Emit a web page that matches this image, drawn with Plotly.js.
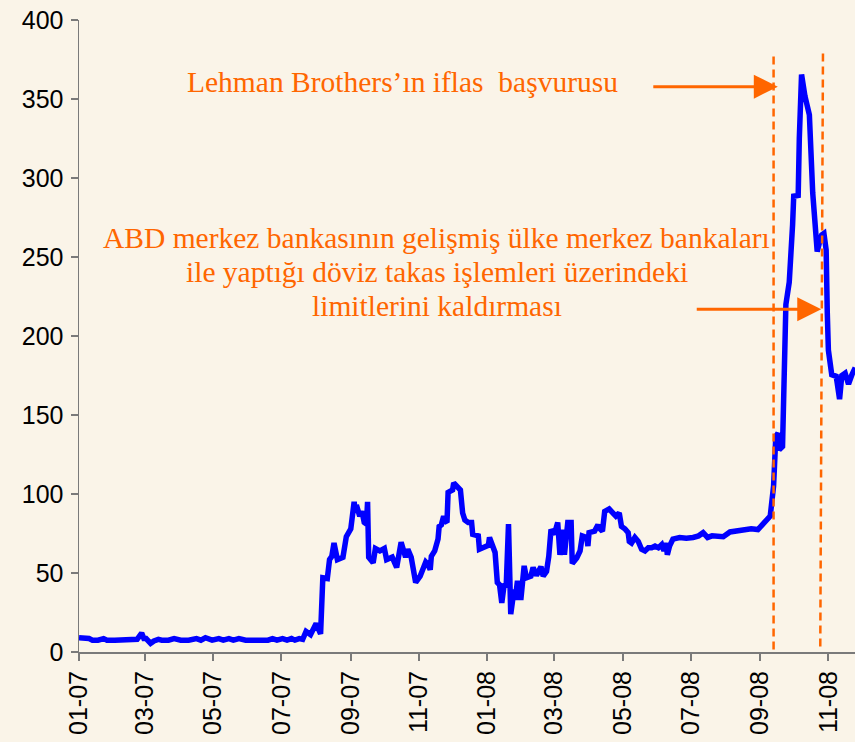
<!DOCTYPE html>
<html>
<head>
<meta charset="utf-8">
<script src="https://cdn.plot.ly/plotly-3.0.1.min.js"></script>
<style>
  html, body { margin: 0; padding: 0; background: #FAF4E8; }
  #chart { width: 855px; height: 742px; }
</style>
</head>
<body>
<div id="chart"></div>
<script>
const dates = [
  '2007-01-01','2007-01-05','2007-01-10','2007-01-13','2007-01-18','2007-01-23','2007-01-26','2007-02-02','2007-02-09','2007-02-16',
  '2007-02-22','2007-02-26','2007-02-28','2007-03-02','2007-03-06','2007-03-09','2007-03-13','2007-03-16','2007-03-22','2007-03-27',
  '2007-04-02','2007-04-09','2007-04-16','2007-04-20','2007-04-24','2007-04-30','2007-05-06','2007-05-10','2007-05-15','2007-05-19',
  '2007-05-24','2007-05-30','2007-06-06','2007-06-13','2007-06-19','2007-06-23','2007-06-27','2007-07-02','2007-07-06','2007-07-10',
  '2007-07-13','2007-07-17','2007-07-20','2007-07-23','2007-07-27','2007-08-01','2007-08-05','2007-08-07','2007-08-11','2007-08-13',
  '2007-08-15','2007-08-17','2007-08-20','2007-08-25','2007-08-28','2007-09-01','2007-09-02','2007-09-04','2007-09-05','2007-09-06',
  '2007-09-09','2007-09-11','2007-09-13','2007-09-15','2007-09-16','2007-09-17','2007-09-21','2007-09-23','2007-09-27','2007-10-01',
  '2007-10-03','2007-10-08','2007-10-12','2007-10-16','2007-10-20','2007-10-22','2007-10-25','2007-10-29','2007-11-02','2007-11-05',
  '2007-11-07','2007-11-09','2007-11-11','2007-11-12','2007-11-15','2007-11-18','2007-11-19','2007-11-21','2007-11-23','2007-11-24',
  '2007-11-26','2007-11-27','2007-12-01','2007-12-02','2007-12-05','2007-12-08','2007-12-10','2007-12-12','2007-12-15','2007-12-18',
  '2007-12-19','2007-12-24','2007-12-25','2007-12-29','2008-01-02','2008-01-03','2008-01-06','2008-01-08','2008-01-10','2008-01-12',
  '2008-01-14','2008-01-16','2008-01-18','2008-01-20','2008-01-22','2008-01-25','2008-01-26','2008-01-28','2008-01-31','2008-02-03',
  '2008-02-05','2008-02-09','2008-02-11','2008-02-14','2008-02-18','2008-02-20','2008-02-23','2008-02-25','2008-02-27','2008-03-01',
  '2008-03-04','2008-03-06','2008-03-09','2008-03-10','2008-03-13','2008-03-16','2008-03-17','2008-03-21','2008-03-24','2008-03-26',
  '2008-03-30','2008-03-31','2008-04-01','2008-04-06','2008-04-09','2008-04-10','2008-04-13','2008-04-15','2008-04-19','2008-04-22',
  '2008-04-25','2008-04-28','2008-04-30','2008-05-03','2008-05-06','2008-05-07','2008-05-09','2008-05-12','2008-05-15','2008-05-18',
  '2008-05-21','2008-05-24','2008-05-27','2008-05-30','2008-06-02','2008-06-05','2008-06-07','2008-06-09','2008-06-10','2008-06-12',
  '2008-06-15','2008-06-21','2008-06-27','2008-07-03','2008-07-08','2008-07-12','2008-07-16','2008-07-20','2008-07-24','2008-07-30',
  '2008-08-05','2008-08-11','2008-08-17','2008-08-24','2008-08-30','2008-09-02','2008-09-06','2008-09-10','2008-09-13','2008-09-15',
  '2008-09-17','2008-09-18','2008-09-21','2008-09-22','2008-09-23','2008-09-24','2008-09-27','2008-09-29','2008-09-30','2008-10-01',
  '2008-10-05','2008-10-06','2008-10-08','2008-10-11','2008-10-15','2008-10-18','2008-10-22','2008-10-25','2008-10-26','2008-10-28',
  '2008-10-30','2008-10-31','2008-11-01','2008-11-04','2008-11-08','2008-11-11','2008-11-13','2008-11-16','2008-11-19','2008-11-22',
  '2008-11-25'
];
const values = [
  9, 9, 8.5, 7.5, 7.5, 8.5, 7.5, 7.5, 7.5, 7.5,
  8, 12, 8.5, 8.5, 5.5, 7, 8, 7.5, 7.5, 8.5,
  7.5, 7.5, 8.5, 7.5, 9, 7.5, 8.5, 7.5, 8.5, 7.5,
  8.5, 7.5, 7.5, 7.5, 7.5, 8.5, 7.5, 8.5, 7.5, 8.5,
  7.5, 8.5, 8, 13, 11, 18, 11.5, 47, 46.5, 58.5,
  60.5, 69, 58.5, 60, 73, 78, 86, 95, 88, 93,
  86, 89, 82, 81, 95, 60, 56.5, 65.5, 64, 65.5,
  58.5, 60, 53.5, 69.5, 60, 65, 60, 44, 48, 54,
  57, 55.5, 52, 60.5, 64, 71.5, 79.5, 80.5, 86, 83,
  82, 101, 102.5, 107, 104, 102.5, 88, 83.5, 82, 82,
  74.5, 73.5, 65, 66, 67.5, 72.5, 65.5, 63, 44, 42.5,
  31, 42, 42.5, 81, 24, 39.5, 33, 45, 33, 54.5,
  47, 48, 53.5, 48.5, 54, 48, 51, 60.5, 77.5, 74.5,
  82, 61.5, 77.5, 61.5, 82, 82, 56, 59.5, 64, 73.5,
  72.5, 67, 75.5, 76.5, 80.5, 78.5, 76.5, 89, 90.5, 88,
  86, 88, 79.5, 78, 75.5, 70, 69, 72.5, 70, 65,
  64, 66, 66, 67, 66, 68, 64, 69, 61.5, 67,
  71.5, 72.5, 72, 72.5, 73.5, 75.5, 72.5, 73.5, 73, 73,
  76, 76.5, 77.5, 78, 77.5, 79.5, 83, 86, 105, 136.5,
  138.5, 128, 130, 164, 208, 220, 234, 251.5, 270.5, 288.5,
  289, 325, 365.5, 352, 340, 290.5, 253.5, 262, 264, 265,
  254.5, 215, 191, 175.5, 174.5, 160, 175, 176.5, 169.5, 175.5,
  180
];
const yTicks = [0, 50, 100, 150, 200, 250, 300, 350, 400];
const lehmanText = "Lehman Brothers’ın iflas  başvurusu";
const fedLines = [
  "ABD merkez bankasının gelişmiş ülke merkez bankaları",
  "ile yaptığı döviz takas işlemleri üzerindeki",
  "limitlerini kaldırması"
];
const lehmanDate = '2008-09-13';
const fedDateBottom = '2008-10-24 18:00';
const fedDateTop = '2008-10-27 04:00';

const orange = '#FF6600';
const serif = '"Liberation Serif", "Times New Roman", serif';

const trace = {
  x: dates, y: values, type: 'scatter', mode: 'lines',
  line: { color: '#0000FF', width: 5.5, shape: 'linear' },
  hoverinfo: 'skip'
};

const fedYs = [0.6551, 0.6013, 0.5475];
const annotations = [
  { xref: 'paper', yref: 'paper', x: 0.4169, y: 0.9019, text: lehmanText, showarrow: false,
    xanchor: 'center', yanchor: 'middle', font: { family: serif, size: 29.5, color: orange } },
  ...fedLines.map((t, i) => ({
    xref: 'paper', yref: 'paper', x: 0.4613, y: fedYs[i], text: t, showarrow: false,
    xanchor: 'center', yanchor: 'middle', font: { family: serif, size: 29.5, color: orange }
  })),
  { xref: 'paper', yref: 'paper', x: 0.9005, y: 0.8945, text: '', showarrow: true,
    ax: -126, ay: 0, axref: 'pixel', ayref: 'pixel', arrowhead: 2, arrowsize: 1.6, arrowwidth: 3, arrowcolor: orange, standoff: 0 },
  { xref: 'paper', yref: 'paper', x: 0.9565, y: 0.5422, text: '', showarrow: true,
    ax: -126, ay: 0, axref: 'pixel', ayref: 'pixel', arrowhead: 2, arrowsize: 1.6, arrowwidth: 3, arrowcolor: orange, standoff: 0 }
];

const shapes = [
  { type: 'line', xref: 'x', yref: 'paper', x0: lehmanDate, x1: lehmanDate, y0: 0.004, y1: 0.9447,
    line: { color: orange, width: 2.5, dash: '8px,5px' } },
  { type: 'line', xref: 'x', yref: 'paper', x0: fedDateBottom, x1: fedDateTop, y0: 0.0087, y1: 0.949,
    line: { color: orange, width: 2.5, dash: '8px,5px' } }
];

const layout = {
  width: 855, height: 742,
  margin: { l: 79, r: 0, t: 20, b: 90, pad: 0 },
  paper_bgcolor: '#FAF4E8', plot_bgcolor: '#FAF4E8',
  showlegend: false,
  font: { family: '"Liberation Sans", Arial, sans-serif', color: '#000000' },
  xaxis: {
    type: 'date',
    range: ['2007-01-01', '2008-11-24 19:00'],
    tick0: '2007-01-01', dtick: 'M2', tickformat: '%m-%y',
    tickangle: -90, ticks: 'outside', ticklen: 7, tickwidth: 2, tickcolor: '#7a7a7a',
    showline: true, linecolor: '#7a7a7a', linewidth: 2,
    showgrid: false, zeroline: false,
    tickfont: { size: 25, color: '#000000' }
  },
  yaxis: {
    range: [0, 400], tickvals: yTicks,
    ticks: 'outside', ticklen: 7, tickwidth: 1.5, tickcolor: '#7a7a7a',
    showline: true, linecolor: '#7a7a7a', linewidth: 1.5,
    showgrid: false, zeroline: false, ticklabelstandoff: 2,
    tickfont: { size: 25, color: '#000000' }
  },
  annotations: annotations,
  shapes: shapes
};

Plotly.newPlot('chart', [trace], layout, { displayModeBar: false, staticPlot: true });
</script>
</body>
</html>
